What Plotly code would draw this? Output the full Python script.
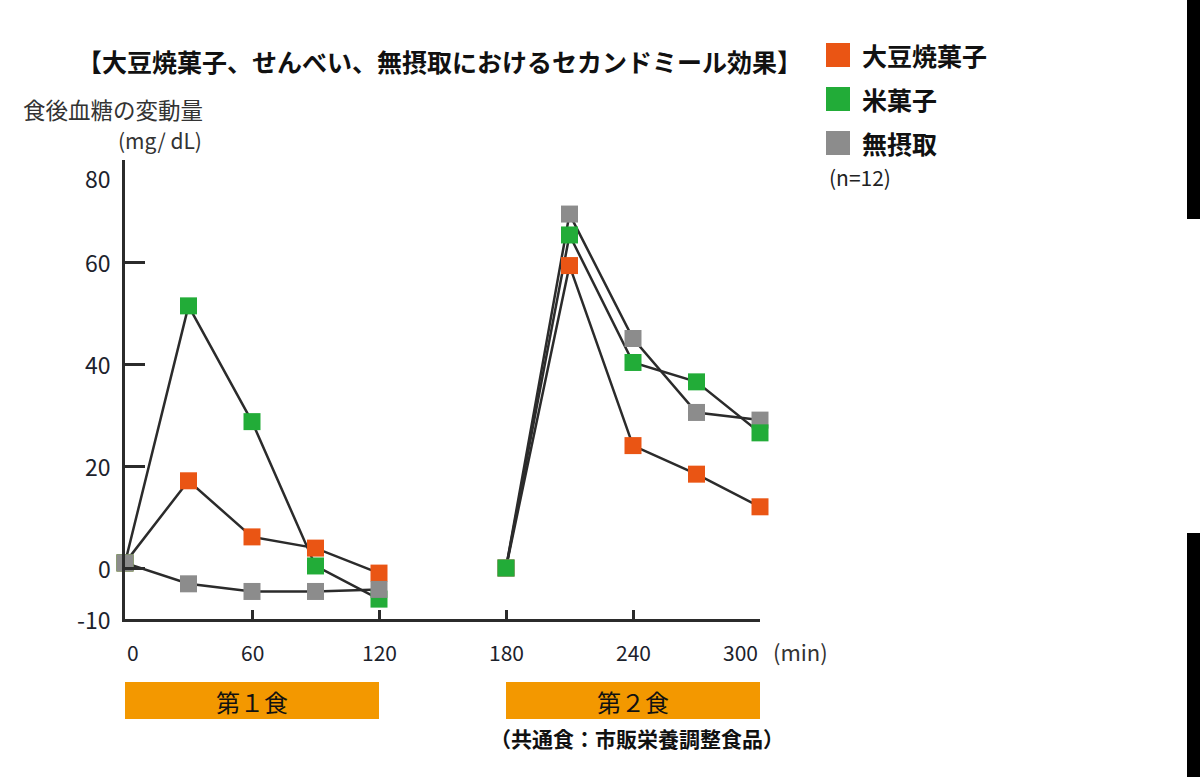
import plotly.graph_objects as go

# ---- data ----
series_names = ["大豆焼菓子", "米菓子", "無摂取"]
series_colors = ["#EA5514", "#22AC38", "#8C8C8C"]
times_meal1 = [0, 30, 60, 90, 120]
times_meal2 = [180, 210, 240, 270, 300]
soy_meal1 = [1.0, 17.1, 6.1, 3.9, -1.0]
soy_meal2 = [0.0, 59.3, 24.0, 18.4, 12.0]
rice_meal1 = [1.0, 51.4, 28.7, 0.4, -6.1]
rice_meal2 = [0.0, 65.3, 40.3, 36.5, 26.5]
none_meal1 = [1.0, -3.1, -4.6, -4.6, -4.2]
none_meal2 = [0.0, 69.4, 45.0, 30.5, 29.0]
y_ticks = [-10, 0, 20, 40, 60, 80]
x_ticks = [0, 60, 120, 180, 240, 300]
meal_labels = ["第１食", "第２食"]
meal_ranges = [(0, 120), (180, 300)]

FONT = "Noto Sans CJK JP"
W, H = 1200, 777
LINE = "#2b2b2b"
TXT = "#1c222c"

def px(x):
    return x / W

def py(y):
    return 1 - y / H

fig = go.Figure()

meal1 = [soy_meal1, rice_meal1, none_meal1]
meal2 = [soy_meal2, rice_meal2, none_meal2]
orders = [[0, 1, 2], [0, 2, 1]]
for times, vals, order in [(times_meal1, meal1, orders[0]), (times_meal2, meal2, orders[1])]:
    for i in order:
        fig.add_trace(go.Scatter(x=times, y=vals[i], mode="lines",
                                 line=dict(color=LINE, width=2.5),
                                 showlegend=False, hoverinfo="skip", cliponaxis=False))
    for i in order:
        fig.add_trace(go.Scatter(x=times, y=vals[i], mode="markers", name=series_names[i],
                                 marker=dict(symbol="square", size=17, color=series_colors[i],
                                             line=dict(width=0)),
                                 showlegend=False, cliponaxis=False))

fig.update_layout(
    width=W, height=H,
    margin=dict(l=0, r=0, t=0, b=0),
    paper_bgcolor="white", plot_bgcolor="white",
    font=dict(family=FONT, color=TXT),
    showlegend=False,
)
fig.update_xaxes(
    domain=[px(125), px(760)], range=[0, 300],
    tickvals=x_ticks, showticklabels=False,
    ticks="inside", ticklen=9, tickwidth=2.5, tickcolor=LINE,
    showline=True, linecolor=LINE, linewidth=2.5,
    showgrid=False, zeroline=False,
)
fig.update_yaxes(
    domain=[py(619), py(160)], range=[-10, 80],
    tickvals=y_ticks, showticklabels=False,
    ticks="inside", ticklen=20, tickwidth=2.5, tickcolor=LINE,
    showline=True, linecolor=LINE, linewidth=2.5,
    showgrid=False, zeroline=False,
)

shapes = []
anns = []
# x tick labels (end labels pulled inward as in the picture)
for v in x_ticks:
    anchor = "left" if v == x_ticks[0] else ("right" if v == x_ticks[-1] else "center")
    anns.append(dict(xref="x", yref="paper", x=v, y=py(652), text=str(v), showarrow=False,
                     font=dict(family=FONT, size=21, color=TXT), xanchor=anchor, yanchor="middle"))
# y tick labels (top label sits a little below its tick, as in the picture)
for v in y_ticks:
    shift = -18 if v == y_ticks[-1] else 0
    anns.append(dict(xref="paper", yref="y", x=px(113), y=v, yshift=shift, text=str(v),
                     showarrow=False, font=dict(family=FONT, size=23, color=TXT),
                     xanchor="right", yanchor="middle"))
for (a, b), lab in zip(meal_ranges, meal_labels):
    shapes.append(dict(type="rect", xref="x", yref="paper", x0=a, x1=b,
                       y0=py(719), y1=py(682), fillcolor="#F39800", line=dict(width=0)))
    anns.append(dict(xref="x", yref="paper", x=(a + b) / 2, y=py(701), text=lab,
                     showarrow=False, font=dict(family=FONT, size=24, color="#111"),
                     xanchor="center", yanchor="middle"))
anns.append(dict(xref="paper", yref="paper", x=px(637), y=py(738),
                 text="<b>（共通食：市販栄養調整食品）</b>", showarrow=False,
                 font=dict(family=FONT, size=21, color="#111"), xanchor="center", yanchor="middle"))
anns.append(dict(xref="paper", yref="paper", x=px(439), y=py(61),
                 text="<b>【大豆焼菓子、せんべい、無摂取におけるセカンドミール効果】</b>",
                 showarrow=False, font=dict(family=FONT, size=25, color="#111"),
                 xanchor="center", yanchor="middle"))
anns.append(dict(xref="paper", yref="paper", x=px(21), y=py(109), text="食後血糖の変動量",
                 showarrow=False, font=dict(family=FONT, size=22.5, color="#333"),
                 xanchor="left", yanchor="middle"))
anns.append(dict(xref="paper", yref="paper", x=px(204), y=py(140), text="(mg/ dL)",
                 showarrow=False, font=dict(family=FONT, size=21, color="#333"),
                 xanchor="right", yanchor="middle"))
anns.append(dict(xref="paper", yref="paper", x=px(771), y=py(651), text="(min)",
                 showarrow=False, font=dict(family=FONT, size=22, color="#333"),
                 xanchor="left", yanchor="middle"))
leg_y = [55, 99, 143]
for name, col, yy in zip(series_names, series_colors, leg_y):
    shapes.append(dict(type="rect", xref="paper", yref="paper", x0=px(826), x1=px(850),
                       y0=py(yy + 12), y1=py(yy - 12), fillcolor=col, line=dict(width=0)))
    anns.append(dict(xref="paper", yref="paper", x=px(860), y=py(yy), text="<b>" + name + "</b>",
                     showarrow=False, font=dict(family=FONT, size=25, color="#111"),
                     xanchor="left", yanchor="middle"))
anns.append(dict(xref="paper", yref="paper", x=px(827), y=py(177), text="(n=12)",
                 showarrow=False, font=dict(family=FONT, size=21, color="#222"),
                 xanchor="left", yanchor="middle"))
shapes.append(dict(type="rect", xref="paper", yref="paper", x0=px(1187), x1=1,
                   y0=py(219), y1=1, fillcolor="black", line=dict(width=0)))
shapes.append(dict(type="rect", xref="paper", yref="paper", x0=px(1187), x1=1,
                   y0=0, y1=py(533), fillcolor="black", line=dict(width=0)))

fig.update_layout(shapes=shapes, annotations=anns)
fig.write_html("out.html")
